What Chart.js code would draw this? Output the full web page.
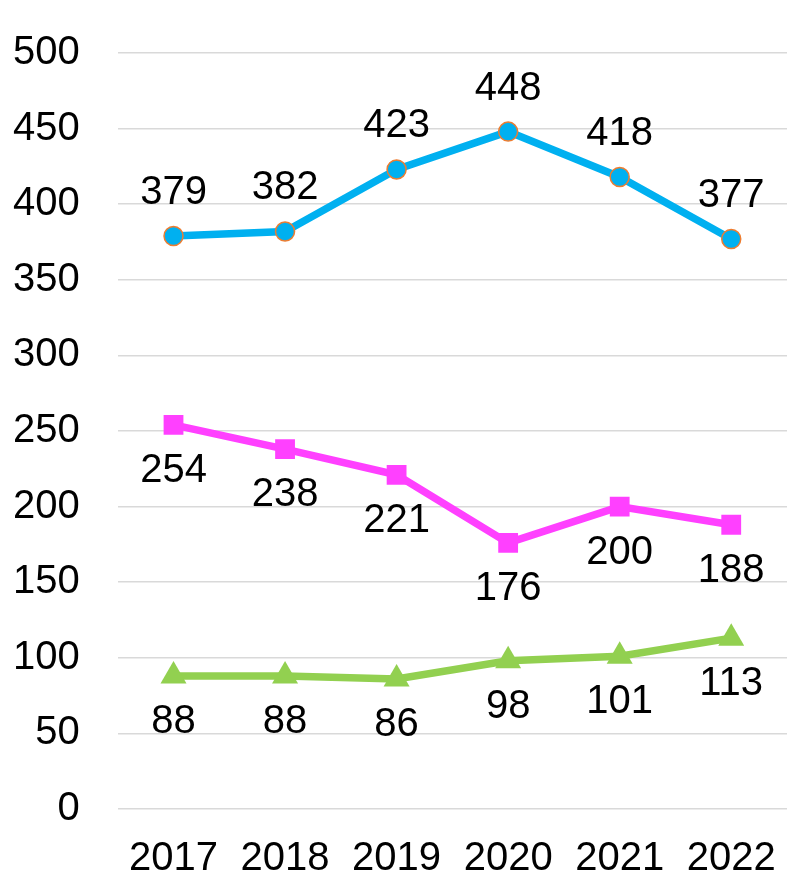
<!DOCTYPE html>
<html>
<head>
<meta charset="utf-8">
<script src="https://cdn.jsdelivr.net/npm/chart.js@4/dist/chart.umd.min.js"></script>
<style>
	html, body { margin: 0; padding: 0; background: #fff; overflow: hidden; }
	#wrap { width: 787px; height: 874px; }
	canvas { display: block; }
</style>
</head>
<body>
<div id="wrap"><canvas id="chart" width="787" height="874"></canvas></div>
<script>

var years = ["2017", "2018", "2019", "2020", "2021", "2022"];
var blueValues = [379, 382, 423, 448, 418, 377];
var pinkValues = [254, 238, 221, 176, 200, 188];
var greenValues = [88, 88, 86, 98, 101, 113];
var labelOffsets = [-43, 46, 46];

var FONT = "'Liberation Sans', Arial, sans-serif";

// draws the value next to each point, using the point positions of the chart
var valueLabels = {
	id: 'valueLabels',
	afterDatasetsDraw: function(chart) {
		var ctx = chart.ctx;
		ctx.save();
		ctx.font = "40px " + FONT;
		ctx.fillStyle = "#000";
		ctx.textAlign = "center";
		ctx.textBaseline = "middle";
		chart.data.datasets.forEach(function(ds, i) {
			var meta = chart.getDatasetMeta(i);
			meta.data.forEach(function(pt, j) {
				ctx.fillText(String(ds.data[j]), pt.x, pt.y + labelOffsets[i]);
			});
		});
		ctx.restore();
	}
};

function makeSet(data, color, style, radius, border) {
	return {
		data: data,
		borderColor: color,
		backgroundColor: color,
		borderWidth: 7.5,
		pointStyle: style,
		pointRadius: radius,
		pointBackgroundColor: color,
		pointBorderColor: border || color,
		pointBorderWidth: border ? 1.5 : 0,
		tension: 0
	};
}

new Chart(document.getElementById("chart").getContext("2d"), {
	type: 'line',
	data: {
		labels: years,
		datasets: [
			makeSet(blueValues, "#00B0F0", 'circle', 9.5, "#ED7D31"),
			makeSet(pinkValues, "#FF40FF", 'rect', 14),
			makeSet(greenValues, "#92D050", 'triangle', 15)
		]
	},
	options: {
		responsive: false,
		devicePixelRatio: 1,
		animation: false,
		layout: { autoPadding: false, padding: { left: -25, right: -4, top: 53, bottom: -27 } },
		plugins: {
			legend: { display: false },
			tooltip: { enabled: false }
		},
		scales: {
			x: {
				offset: true,
				grid: { display: false },
				border: { display: false },
				ticks: { color: "#000", font: { family: FONT, size: 40 }, padding: 18, maxRotation: 0 },
				afterFit: function(scale) {
					scale.paddingLeft = 0;
					scale.paddingRight = 0;
				}
			},
			y: {
				min: 0,
				max: 500,
				ticks: { stepSize: 50, color: "#000", font: { family: FONT, size: 40 }, padding: 38 },
				grid: { color: "#D9D9D9", lineWidth: 1.5, drawTicks: false },
				border: { display: false },
				afterFit: function(scale) {
					scale.paddingTop = 0;
					scale.paddingBottom = 0;
				}
			}
		}
	},
	plugins: [valueLabels]
});
</script>
</body>
</html>
